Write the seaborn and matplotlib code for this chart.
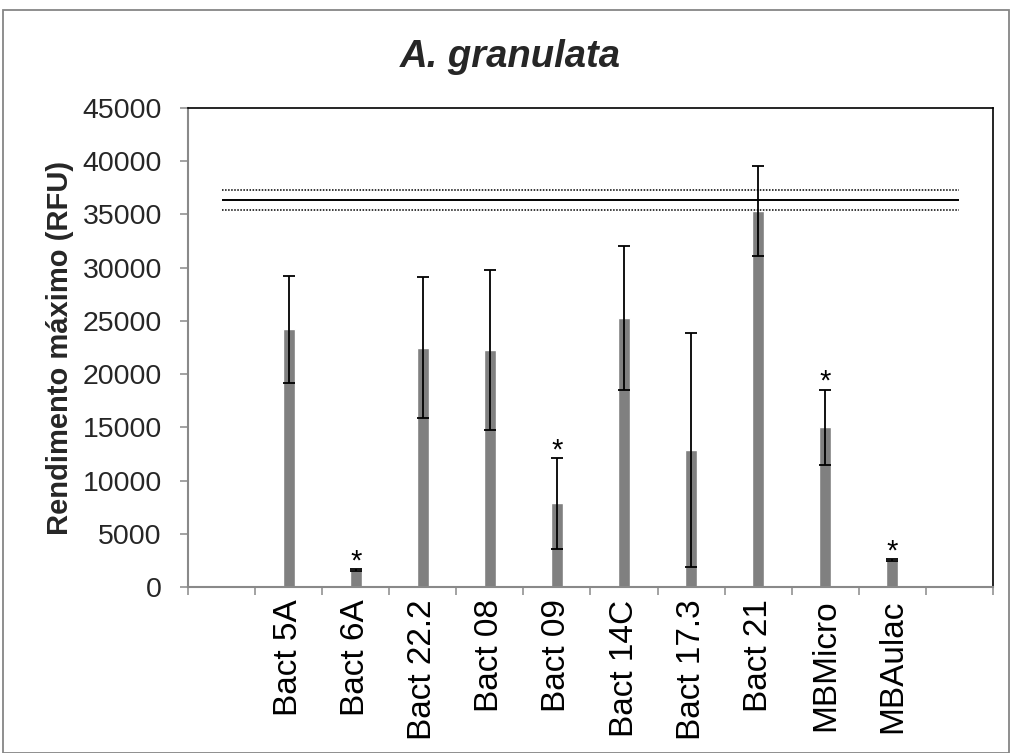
import numpy as np
import pandas as pd
import matplotlib
matplotlib.use("Agg")
import matplotlib.pyplot as plt
import matplotlib.patches as mpatches
import seaborn as sns

# ---- data ----
categories = ["Bact 5A", "Bact 6A", "Bact 22.2", "Bact 08", "Bact 09",
              "Bact 14C", "Bact 17.3", "Bact 21", "MBMicro", "MBAulac"]
means = [24200, 1600, 22500, 22270, 7860, 25250, 12870, 35300, 15000, 2540]
errors = [5000, 80, 6650, 7500, 4250, 6750, 11000, 4250, 3550, 80]
significant = [False, True, False, False, True, False, False, False, True, True]
control_mean = 36350
control_sd = 975
y_ticks = [0, 5000, 10000, 15000, 20000, 25000, 30000, 35000, 40000, 45000]
title = "A. granulata"
ylabel = "Rendimento máximo (RFU)"

sns.set_theme(style="white")
plt.rcParams['font.family'] = ['Liberation Sans', 'DejaVu Sans']

df = pd.DataFrame({"cat": categories, "mean": means, "err": errors})

fig = plt.figure(figsize=(10.12, 7.53), dpi=100)
ax = fig.add_axes([188 / 1012, 1 - 587 / 753, (993 - 188) / 1012, (587 - 108) / 753])

sns.barplot(data=df, x="cat", y="mean", order=categories, color="#808080",
            saturation=1, width=0.18, errorbar=None, ax=ax)

xs = np.arange(len(categories))
ax.errorbar(xs, df["mean"], yerr=df["err"], fmt="none", ecolor="black",
            elinewidth=1.3, capsize=4.3, capthick=1.3, zorder=5)

# control reference lines
ax.hlines(control_mean, -1, len(categories), colors="black", linewidth=1.4, zorder=4)
ax.hlines([control_mean + control_sd, control_mean - control_sd], -1, len(categories),
          colors="black", linewidth=1.1, linestyles=(0, (1, 1)), zorder=4)

# significance asterisks
for i, (m, e, s) in enumerate(zip(means, errors, significant)):
    if s:
        ax.annotate("*", (i, m + e), xytext=(0, 0), textcoords="offset points",
                    ha="center", va="baseline", fontsize=21, color="black", zorder=6)

ax.set_xlim(-1.5, len(categories) + 0.5)
ax.set_ylim(0, 45000)
ax.set_yticks(y_ticks)
ax.set_yticklabels([str(v) for v in y_ticks], fontsize=20.5)
ax.set_xticks(xs)
ax.set_xticklabels(categories, rotation=90, fontsize=24)
ax.set_xticks(np.arange(-1.5, len(categories) + 0.6, 1), minor=True)
ax.set_xlabel("")
ax.set_ylabel(ylabel, fontsize=21, fontweight="bold", labelpad=6)
fig.text(510 / 1012, 1 - 57 / 753, title, fontsize=27.5, fontweight="bold",
         fontstyle="italic", ha="center", va="center")

gray = "#898989"
ax.tick_params(axis="x", which="major", length=0, pad=9, colors="black")
ax.tick_params(axis="x", which="minor", length=5.8, width=1.1, color=gray, direction="out", bottom=True)
ax.tick_params(axis="y", which="major", length=5.8, width=1.1, color=gray, direction="out", left=True, pad=13)
for side in ["top", "right"]:
    ax.spines[side].set_color("black")
    ax.spines[side].set_linewidth(1.2)
for side in ["left", "bottom"]:
    ax.spines[side].set_color(gray)
    ax.spines[side].set_linewidth(1.5)
ax.grid(False)

# outer chart border
fig.patches.append(mpatches.Rectangle((3 / 1012, 0.0), 1006 / 1012, 1 - 10 / 753,
                                      transform=fig.transFigure, fill=False,
                                      edgecolor="#868686", linewidth=1.3))

fig.savefig("out.png", dpi=100)
